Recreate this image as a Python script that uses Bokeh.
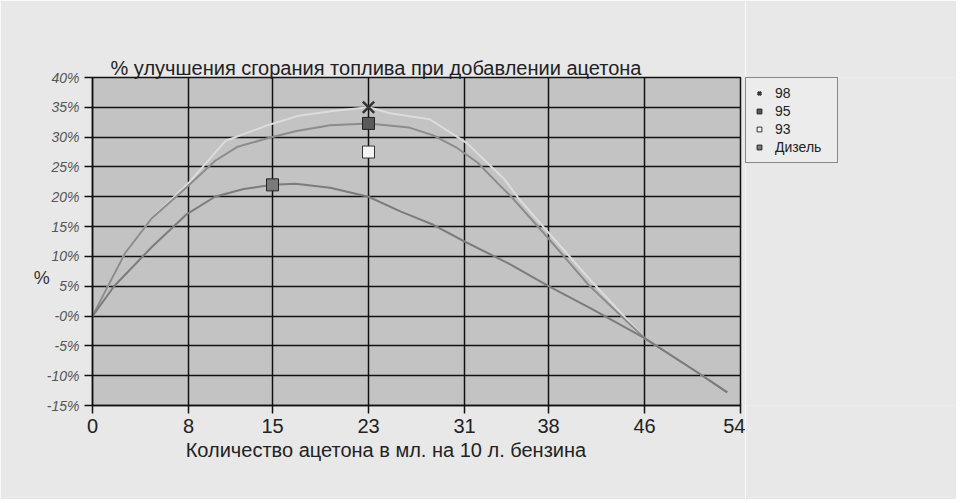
from bokeh.plotting import figure
from bokeh.layouts import row
from bokeh.models import Range1d, FixedTicker, Legend, LegendItem
from bokeh.embed import file_html
from bokeh.resources import INLINE

# values (x = ml of acetone per 10 l, y = % improvement)
x_98 = [0, 2.7, 4.9, 8, 11.1, 14.6, 17.2, 20, 23, 24.8, 28.1, 31.2, 33.0, 34.3, 35.6, 38, 41.5, 46, 50.3, 52.9]
y_98 = [0, 10.5, 16.3, 22.3, 29.4, 32.0, 33.6, 34.4, 35.0, 34.0, 33.0, 29.0, 25.5, 23.0, 19.5, 14.0, 6.0, -3.7, -9.3, -12.8]

x_95 = [0, 2.7, 4.9, 7.8, 10.2, 12.1, 14.6, 16.9, 19.8, 23, 26.4, 28.4, 30.3, 32.1, 33.9, 35.0, 38, 41.3, 46, 50.3, 52.9]
y_95 = [0, 10.5, 16.3, 21.5, 26.0, 28.4, 29.8, 31.0, 32.0, 32.3, 31.6, 30.3, 28.3, 25.7, 22.0, 19.8, 13.0, 5.3, -3.7, -9.3, -12.8]

x_diesel = [0, 1.8, 4.9, 7.8, 10.2, 12.6, 15, 16.9, 19.8, 23, 25.7, 28.4, 31, 34.7, 38, 41.6, 46, 50.3, 52.9]
y_diesel = [0, 5.0, 11.5, 17.0, 20.0, 21.3, 22.0, 22.2, 21.5, 20.0, 17.5, 15.3, 12.5, 8.8, 5.0, 1.2, -3.7, -9.3, -12.8]

# single marked points
mark_98 = ([23], [35.0])
mark_95 = ([23], [32.3])
mark_93 = ([23], [27.5])
mark_diesel = ([15], [22.0])
marks = [mark_98, mark_95, mark_93, mark_diesel]

series_names = ["98", "95", "93", "Дизель"]

x_ticks = [0, 8, 15, 23, 31, 38, 46, 54]
y_ticks = [-15, -10, -5, 0, 5, 10, 15, 20, 25, 30, 35, 40]
y_tick_labels = ["-15%", "-10%", "-5%", "-0%", "5%", "10%", "15%", "20%", "25%", "30%", "35%", "40%"]

FONT = "Liberation Sans"
PAPER = "#e8e8e8"

# marker styles shared by the plot and the legend
styles = [dict(marker="x", size=16, line_color="#333333", line_width=2.5),
          dict(marker="square", size=12, fill_color="#5a5a5a", line_color="#222222"),
          dict(marker="square", size=12, fill_color="#f4f4f4", line_color="#333333"),
          dict(marker="square", size=12, fill_color="#7a7a7a", line_color="#222222")]

p = figure(width=745, height=499, output_backend="svg", toolbar_location=None,
           x_range=Range1d(0, 54), y_range=Range1d(-15, 40),
           min_border_left=92, min_border_right=5, min_border_top=77, min_border_bottom=94)

p.background_fill_color = "#c3c3c3"
p.border_fill_color = PAPER
p.outline_line_color = "#111111"
p.outline_line_width = 1.5

p.title.text = "% улучшения сгорания топлива при добавлении ацетона"
p.title.text_font = FONT
p.title.text_font_size = "20px"
p.title.text_font_style = "normal"
p.title.text_color = "#222222"
p.title.align = "left"
p.title.offset = 18
p.title.standoff = -3

p.xaxis.ticker = FixedTicker(ticks=x_ticks)
p.yaxis.ticker = FixedTicker(ticks=y_ticks)
p.yaxis.major_label_overrides = {t: s for t, s in zip(y_ticks, y_tick_labels)}
p.xaxis.major_label_overrides = {t: str(t) for t in x_ticks}

for ax in (p.xaxis, p.yaxis):
    ax.axis_line_color = "#111111"
    ax.axis_line_width = 1.5
    ax.major_tick_line_color = "#111111"
    ax.major_tick_line_width = 1.5
    ax.major_tick_in = 0
    ax.major_tick_out = 8
    ax.minor_tick_line_color = None
    ax.major_label_text_font = FONT
    ax.axis_label_text_font = FONT
    ax.axis_label_text_font_style = "normal"

p.xaxis.major_label_text_font_size = "20px"
p.xaxis.major_label_text_color = "#222222"
p.yaxis.major_label_text_font_size = "14px"
p.yaxis.major_label_text_color = "#555555"
p.yaxis.major_label_text_font_style = "italic"

# "%" sits a little below the middle of the axis, as in the print
p.yaxis.axis_label = "\n\n\n%"
p.yaxis.axis_label_orientation = "horizontal"
p.yaxis.axis_label_text_font_size = "18px"
p.yaxis.axis_label_text_color = "#333333"
p.yaxis.axis_label_standoff = -6

# axis title printed left of centre
p.xaxis.axis_label = "Количество ацетона в мл. на 10 л. бензина" + "\u00a0" * 11
p.xaxis.axis_label_text_font_size = "20px"
p.xaxis.axis_label_text_color = "#222222"
p.xaxis.axis_label_standoff = 3

p.xgrid.grid_line_color = "#111111"
p.xgrid.grid_line_width = 1.5
p.ygrid.grid_line_color = "#111111"
p.ygrid.grid_line_width = 1.5

p.line(x_98, y_98, line_color="#dcdcdc", line_width=2)
p.line(x_95, y_95, line_color="#8c8c8c", line_width=2)
p.line(x_diesel, y_diesel, line_color="#7c7c7c", line_width=2)

for (mx, my), st in zip(marks, styles):
    p.scatter(mx, my, **st)

# legend box to the right of the plot area; its ranges keep the markers off view
leg = figure(width=211, height=499, output_backend="svg", toolbar_location=None,
             x_axis_location=None, y_axis_location=None,
             x_range=Range1d(100, 101), y_range=Range1d(100, 101),
             min_border_left=0, min_border_right=0, min_border_top=77, min_border_bottom=94)
leg.background_fill_color = PAPER
leg.border_fill_color = PAPER
leg.outline_line_color = None
leg.grid.visible = False

items = []
for name, (mx, my), st in zip(series_names, marks, styles):
    r = leg.scatter(mx, my, **st)
    items.append(LegendItem(label=name, renderers=[r]))

legend = Legend(items=items, location="top_left")
legend.label_text_font = FONT
legend.label_text_font_size = "14px"
legend.label_text_color = "#222222"
legend.glyph_width = 12
legend.glyph_height = 12
legend.label_height = 14
legend.label_width = 55
legend.spacing = 2
legend.padding = 7
legend.margin = 0
legend.label_standoff = 10
legend.background_fill_color = "#ececec"
legend.background_fill_alpha = 1
legend.border_line_color = "#222222"
legend.border_line_width = 1.2
leg.add_layout(legend)

page = row(p, leg)
open("out.html", "w").write(file_html(page, INLINE))
